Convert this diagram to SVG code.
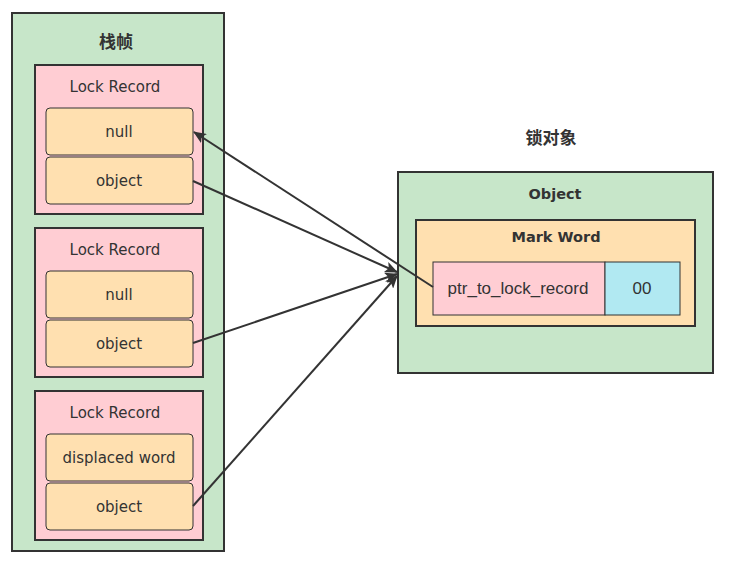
<svg xmlns="http://www.w3.org/2000/svg" width="737" height="568" viewBox="0 0 737 568">
<style>
.green{fill:#C7E6C9;stroke:#333;stroke-width:2}
.pink{fill:#FFCDD3;stroke:#333;stroke-width:2}
.orange{fill:#FFE0B0;stroke:#333;stroke-width:2}
.cell{fill:#FFE0B0;stroke:#333;stroke-width:1}
.t{font-family:"DejaVu Sans",sans-serif;font-size:15px;fill:#333;text-anchor:middle;dominant-baseline:central}
.b{font-family:"DejaVu Sans",sans-serif;font-size:14.5px;font-weight:bold;fill:#333;text-anchor:middle;dominant-baseline:central}
.cn{font-family:"Noto Sans CJK SC",sans-serif;font-size:17px;font-weight:bold;fill:#333;text-anchor:middle;dominant-baseline:central}
.y{font-family:"Liberation Sans","Noto Sans",sans-serif;font-size:17px;fill:#333;text-anchor:middle;dominant-baseline:central}
.conn{stroke:#333;stroke-width:2;fill:none;marker-end:url(#arr)}
</style>
<defs>
<marker id="arr" viewBox="0 0 13 11" refX="12" refY="5.5" markerWidth="13" markerHeight="11" markerUnits="userSpaceOnUse" orient="auto">
<path d="M0,0 L13,5.5 L0,11 L3,5.5 Z" fill="#333"/>
</marker>
</defs>
<g id="stack-frame">
<rect class="green" x="12" y="13" width="212" height="538"/>
<text class="cn" x="116" y="40">栈帧</text>
</g>
<g id="lock-record-1">
<rect class="pink" x="35" y="65" width="168" height="149"/>
<text class="t" x="115" y="87">Lock Record</text>
<rect class="cell" x="46" y="108" width="147" height="47" rx="4"/>
<text class="t" x="119" y="132">null</text>
<rect class="cell" x="46" y="157" width="147" height="47" rx="4"/>
<text class="t" x="119" y="181">object</text>
</g>
<g id="lock-record-2">
<rect class="pink" x="35" y="228" width="168" height="149"/>
<text class="t" x="115" y="250">Lock Record</text>
<rect class="cell" x="46" y="271" width="147" height="47" rx="4"/>
<text class="t" x="119" y="295">null</text>
<rect class="cell" x="46" y="320" width="147" height="47" rx="4"/>
<text class="t" x="119" y="344">object</text>
</g>
<g id="lock-record-3">
<rect class="pink" x="35" y="391" width="168" height="149"/>
<text class="t" x="115" y="413">Lock Record</text>
<rect class="cell" x="46" y="434" width="147" height="47" rx="4"/>
<text class="t" x="119" y="458">displaced word</text>
<rect class="cell" x="46" y="483" width="147" height="47" rx="4"/>
<text class="t" x="119" y="507">object</text>
</g>
<g id="lock-object-title">
<text class="cn" x="551" y="136">锁对象</text>
</g>
<g id="object">
<rect class="green" x="398" y="172" width="315" height="201"/>
<text class="b" x="555" y="194">Object</text>
</g>
<g id="mark-word">
<rect class="orange" x="416" y="220" width="279" height="106"/>
<text class="b" x="556" y="237">Mark Word</text>
</g>
<g id="ptr-to-lock-record">
<rect x="433" y="262" width="172" height="53" fill="#FFCDD3" stroke="#333" stroke-width="1"/>
<text class="y" x="518" y="288">ptr_to_lock_record</text>
</g>
<g id="lock-bits">
<rect x="605" y="262" width="75" height="53" fill="#B1E9F2" stroke="#333" stroke-width="1"/>
<text class="y" x="642" y="288">00</text>
</g>
<g id="connectors">
<line class="conn" x1="433" y1="287" x2="194" y2="132"/>
<line class="conn" x1="193" y1="181" x2="397" y2="272"/>
<line class="conn" x1="193" y1="343" x2="397" y2="274"/>
<line class="conn" x1="193" y1="506" x2="397" y2="276"/>
</g>
</svg>
